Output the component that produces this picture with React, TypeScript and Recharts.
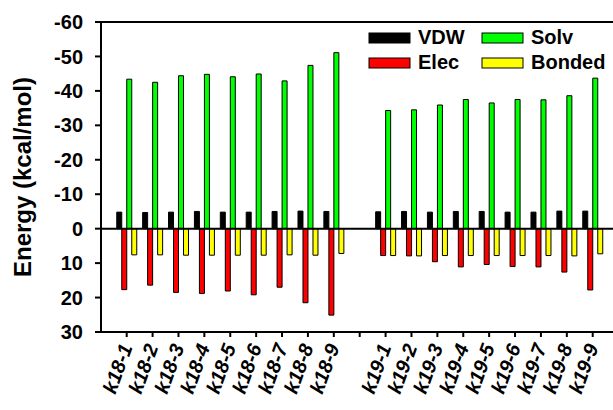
import { Bar, BarChart, ReferenceLine, XAxis, YAxis } from "recharts";

const categories = [
  "k18-1", "k18-2", "k18-3", "k18-4", "k18-5", "k18-6", "k18-7", "k18-8", "k18-9",
  "",
  "k19-1", "k19-2", "k19-3", "k19-4", "k19-5", "k19-6", "k19-7", "k19-8", "k19-9",
];
const vdw = [-4.8, -4.7, -4.8, -5.0, -4.8, -4.8, -5.0, -5.1, -5.0, null, -4.9, -5.0, -4.8, -5.0, -5.0, -4.8, -4.8, -5.1, -5.1];
const elec = [17.7, 16.4, 18.5, 18.8, 18.1, 19.2, 17.0, 21.5, 25.1, null, 7.8, 7.9, 9.6, 11.1, 10.4, 11.0, 11.1, 12.6, 17.8];
const solv = [-43.4, -42.5, -44.4, -44.8, -44.1, -44.9, -42.9, -47.4, -51.1, null, -34.3, -34.5, -35.9, -37.5, -36.5, -37.5, -37.4, -38.6, -43.7];
const bonded = [7.6, 7.6, 7.7, 7.7, 7.7, 7.7, 7.6, 7.7, 7.2, null, 7.8, 7.9, 7.8, 7.8, 7.8, 7.8, 7.8, 7.9, 7.3];
const yTicks = [-60, -50, -40, -30, -20, -10, 0, 10, 20, 30];

const FONT = "Arial, 'Liberation Sans', sans-serif";

const series = [
  { key: "vdw", name: "VDW", color: "#000000" },
  { key: "elec", name: "Elec", color: "#ff0000" },
  { key: "solv", name: "Solv", color: "#00ff00" },
  { key: "bonded", name: "Bonded", color: "#ffff00" },
];

const data = categories.map((name, i) => ({
  name,
  vdw: vdw[i],
  elec: elec[i],
  solv: solv[i],
  bonded: bonded[i],
}));

function XTick(props: any) {
  const { x, y, payload } = props;
  if (!payload?.value) return null;
  return (
    <g transform={`translate(${x + 6},${y + 10})`}>
      <text
        x={0}
        y={0}
        textAnchor="end"
        transform="rotate(-70)"
        fontFamily={FONT}
        fontSize={20}
        fontWeight="bold"
        fontStyle="italic"
        fill="#000"
      >
        {payload.value}
      </text>
    </g>
  );
}

// legend placement
const legendItems = [
  { ...series[0], x: 369, y: 33 },
  { ...series[2], x: 482, y: 33 },
  { ...series[1], x: 369, y: 58 },
  { ...series[3], x: 482, y: 58 },
];

export default function App() {
  return (
    <div style={{ position: "absolute", left: 0, top: 0, width: 613, height: 410, background: "#fff" }}>
      <BarChart
        width={613}
        height={410}
        data={data}
        margin={{ top: 22, right: 0, bottom: 0, left: 0 }}
        barGap={0}
        barSize={5}
      >
        <XAxis
          dataKey="name"
          height={78}
          padding={{ left: 12.75, right: 7.35 }}
          interval={0}
          tick={<XTick />}
          tickSize={5}
          tickMargin={0}
          axisLine={{ stroke: "#000", strokeWidth: 2 }}
          tickLine={{ stroke: "#000", strokeWidth: 2 }}
        />
        <YAxis
          width={101}
          domain={[-60, 30]}
          ticks={yTicks}
          reversed
          allowDataOverflow
          tickSize={6}
          tickMargin={12}
          tick={{ fontSize: 20, fontWeight: "bold", fill: "#000", fontFamily: FONT }}
          axisLine={{ stroke: "#000", strokeWidth: 2 }}
          tickLine={{ stroke: "#000", strokeWidth: 2 }}
          label={{
            content: () => (
              <text
                x={0}
                y={0}
                transform="translate(31,177) rotate(-90)"
                textAnchor="middle"
                fontFamily={FONT}
                fontSize={24}
                fontWeight="bold"
                fill="#000"
              >
                Energy (kcal/mol)
              </text>
            ),
          }}
        />
        <ReferenceLine y={-60} stroke="#000" strokeWidth={2} />
        <ReferenceLine y={0} stroke="#000" strokeWidth={2} />
        {series.map((s) => (
          <Bar
            key={s.key}
            dataKey={s.key}
            name={s.name}
            fill={s.color}
            stroke="#000"
            strokeWidth={1}
            isAnimationActive={false}
          />
        ))}
      </BarChart>
      <svg
        width={613}
        height={410}
        style={{ position: "absolute", left: 0, top: 0, pointerEvents: "none" }}
      >
        {legendItems.map((item) => (
          <g key={item.key}>
            <rect x={item.x} y={item.y} width={41} height={10} fill={item.color} stroke="#000" strokeWidth={1} />
            <text
              x={item.x + 49}
              y={item.y + 11}
              fontFamily={FONT}
              fontSize={20}
              fontWeight="bold"
              fill="#000"
            >
              {item.name}
            </text>
          </g>
        ))}
      </svg>
    </div>
  );
}
